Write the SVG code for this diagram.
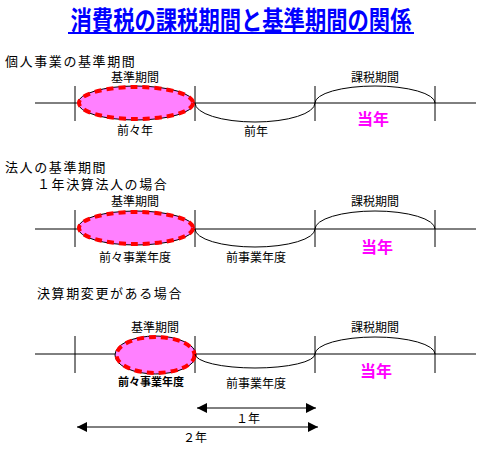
<svg xmlns="http://www.w3.org/2000/svg" width="482" height="451" viewBox="0 0 482 451">
<defs>
<style>
text{font-family:"Noto Sans CJK JP","Noto Sans CJK SC",sans-serif;fill:#000}
.h{font-size:13px;letter-spacing:1.6px}
.l{font-size:12px;text-anchor:middle}
.t{font-size:16px;font-weight:bold;fill:#ff00ff;text-anchor:middle}
.ln{stroke:#000;stroke-width:1;fill:none}
.ell{fill:#ff80ff;stroke:#000;stroke-width:1}
.dash{fill:none;stroke:#ff0000;stroke-width:4;stroke-dasharray:7 5}
</style>
<marker id="ah" viewBox="0 0 10 10" refX="10" refY="5" markerWidth="10" markerHeight="10" markerUnits="userSpaceOnUse" orient="auto-start-reverse">
<path d="M0,0 L10,5 L0,10 Z" fill="#000"/>
</marker>
</defs>
<rect width="482" height="451" fill="#fff"/>
<g id="title">
<text transform="translate(241,30) scale(0.82,1)" style="font-size:26px;font-weight:bold;fill:#0000ff;text-anchor:middle">消費税の課税期間と基準期間の関係</text>
<rect x="68" y="32" width="346" height="2" fill="#0000ff"/>
</g>
<g id="sec1">
<text class="h" x="5" y="66">個人事業の基準期間</text>
</g>
<g id="timeline1">
<line class="ln" x1="35" y1="103" x2="476" y2="103"/>
<line class="ln" x1="75" y1="86" x2="75" y2="121"/>
<line class="ln" x1="195" y1="86" x2="195" y2="121"/>
<line class="ln" x1="315" y1="86" x2="315" y2="121"/>
<line class="ln" x1="435" y1="86" x2="435" y2="121"/>
<ellipse class="ell" cx="136" cy="103" rx="58" ry="17"/>
<ellipse class="dash" cx="136" cy="103" rx="57" ry="16"/>
<path class="ln" d="M195,103 A60,19 0 0 0 315,103"/>
<path class="ln" d="M315,103 A60,17 0 0 1 435,103"/>
<text class="l" x="135" y="82">基準期間</text>
<text class="l" x="375" y="82">課税期間</text>
<text class="l" x="135" y="135">前々年</text>
<text class="l" x="256" y="136">前年</text>
<text class="t" x="373" y="125">当年</text>
</g>
<g id="sec2">
<text class="h" x="5" y="172">法人の基準期間</text>
<text class="h" x="37" y="189">１年決算法人の場合</text>
</g>
<g id="timeline2">
<line class="ln" x1="35" y1="229" x2="476" y2="229"/>
<line class="ln" x1="75" y1="210" x2="75" y2="247"/>
<line class="ln" x1="195" y1="210" x2="195" y2="247"/>
<line class="ln" x1="315" y1="210" x2="315" y2="247"/>
<line class="ln" x1="435" y1="210" x2="435" y2="247"/>
<ellipse class="ell" cx="136" cy="228" rx="58" ry="17"/>
<ellipse class="dash" cx="136" cy="228" rx="57" ry="16"/>
<path class="ln" d="M195,229 A60,18 0 0 0 315,229"/>
<path class="ln" d="M315,229 A60,18 0 0 1 435,229"/>
<text class="l" x="135" y="206">基準期間</text>
<text class="l" x="375" y="206">課税期間</text>
<text class="l" x="135" y="262">前々事業年度</text>
<text class="l" x="256" y="262">前事業年度</text>
<text class="t" x="377" y="253">当年</text>
</g>
<g id="sec3">
<text class="h" x="37" y="298">決算期変更がある場合</text>
</g>
<g id="timeline3">
<line class="ln" x1="35" y1="354" x2="476" y2="354"/>
<line class="ln" x1="75" y1="336" x2="75" y2="373"/>
<line class="ln" x1="195" y1="336" x2="195" y2="373"/>
<line class="ln" x1="315" y1="336" x2="315" y2="373"/>
<line class="ln" x1="435" y1="336" x2="435" y2="373"/>
<ellipse class="ell" cx="155.5" cy="355" rx="40.5" ry="19"/>
<ellipse class="dash" cx="155.5" cy="355" rx="39" ry="18"/>
<path class="ln" d="M195,354 A60,14 0 0 0 315,354"/>
<path class="ln" d="M315,354 A60,17 0 0 1 435,354"/>
<text class="l" x="155" y="332">基準期間</text>
<text class="l" x="375" y="332">課税期間</text>
<text class="l" x="151" y="386" style="font-size:11px;font-weight:bold">前々事業年度</text>
<text class="l" x="256" y="388">前事業年度</text>
<text class="t" x="376" y="377">当年</text>
</g>
<g id="connectors">
<line class="ln" x1="197" y1="408" x2="316" y2="408" marker-start="url(#ah)" marker-end="url(#ah)"/>
<line class="ln" x1="77" y1="427" x2="318" y2="427" marker-start="url(#ah)" marker-end="url(#ah)"/>
<text class="l" x="248" y="423">１年</text>
<text class="l" x="195" y="442">２年</text>
</g>
</svg>
